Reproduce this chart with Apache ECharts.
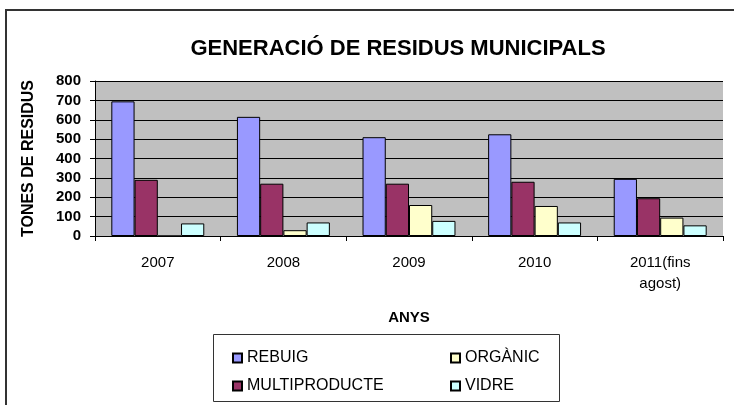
<!DOCTYPE html>
<html>
<head>
<meta charset="utf-8">
<script src="https://cdn.jsdelivr.net/npm/echarts@6/dist/echarts.min.js"></script>
<style>html,body{margin:0;padding:0;background:#fff}#c{width:734px;height:405px}</style>
</head>
<body>
<div id="c"></div>
<script>
const categories = ['2007', '2008', '2009', '2010', '2011(fins\nagost)'];
const rebuig = [695, 615, 510, 525, 295];
const multiproducte = [290, 270, 270, 280, 195];
const organic = [0, 30, 160, 155, 95];
const vidre = [65, 70, 78, 70, 55];
const seriesNames = ['REBUIG', 'MULTIPRODUCTE', 'ORGÀNIC', 'VIDRE'];
const seriesColors = ['#9999FF', '#993366', '#FFFFCC', '#CCFFFF'];
const yTicks = { min: 0, max: 800, interval: 100 };

const font = 'Liberation Sans, Arial, sans-serif';
const chart = echarts.init(document.getElementById('c'), null, { renderer: 'canvas' });
const datas = [rebuig, multiproducte, organic, vidre];

chart.setOption({
  animation: false,
  backgroundColor: '#fff',
  textStyle: { fontFamily: font },
  title: {
    text: 'GENERACIÓ DE RESIDUS MUNICIPALS',
    left: 393, top: 33, textAlign: 'center',
    textStyle: { fontFamily: font, fontSize: 22, fontWeight: 'bold', color: '#000' }
  },
  grid: {
    left: 95, right: 11, top: 81, bottom: 169,
    show: true, backgroundColor: '#C0C0C0', borderWidth: 0
  },
  legend: [
    {
      data: ['REBUIG', 'MULTIPRODUCTE'], orient: 'vertical', left: 227, top: 345,
      itemWidth: 9, itemHeight: 9, icon: 'rect', itemGap: 12,
      textStyle: { fontFamily: font, fontSize: 16, color: '#000', lineHeight: 16 }
    },
    {
      data: ['ORGÀNIC', 'VIDRE'], orient: 'vertical', left: 445, top: 345,
      itemWidth: 9, itemHeight: 9, icon: 'rect', itemGap: 12,
      textStyle: { fontFamily: font, fontSize: 16, color: '#000', lineHeight: 16 }
    }
  ],
  xAxis: {
    type: 'category', data: categories,
    name: 'ANYS', nameLocation: 'middle', nameGap: 74,
    nameTextStyle: { fontFamily: font, fontSize: 15, fontWeight: 'bold', color: '#000' },
    axisLine: { show: true, lineStyle: { color: '#000', width: 1 } },
    axisTick: { show: true, length: 5, lineStyle: { color: '#000' } },
    axisLabel: { fontFamily: font, fontSize: 15, color: '#000', margin: 16, lineHeight: 21 },
    splitLine: { show: false }
  },
  yAxis: {
    type: 'value', min: yTicks.min, max: yTicks.max, interval: yTicks.interval,
    name: 'TONES DE RESIDUS', nameLocation: 'middle', nameGap: 58, nameRotate: 90,
    nameTextStyle: { fontFamily: font, fontSize: 16, fontWeight: 'bold', color: '#000' },
    axisLine: { show: true, lineStyle: { color: '#000', width: 1 } },
    axisTick: { show: true, length: 5, lineStyle: { color: '#000' } },
    axisLabel: { fontFamily: font, fontSize: 15, fontWeight: 'bold', color: '#000', margin: 14 },
    splitLine: { show: true, lineStyle: { color: '#000', width: 1 } }
  },
  series: seriesNames.map((n, i) => ({
    name: n, type: 'bar', data: datas[i],
    barGap: '0%', barCategoryGap: '26%',
    itemStyle: { color: seriesColors[i], borderColor: '#000', borderWidth: 1 }
  })),
  graphic: [
    { type: 'rect', shape: { x: 6, y: 10, width: 900, height: 600 },
      style: { fill: 'none', stroke: '#333', lineWidth: 2 }, silent: true, z: 100 },
    { type: 'rect', shape: { x: 213.5, y: 334.5, width: 346, height: 67 },
      style: { fill: 'none', stroke: '#333', lineWidth: 1 }, silent: true, z: 100 }
  ]
});
</script>
</body>
</html>
